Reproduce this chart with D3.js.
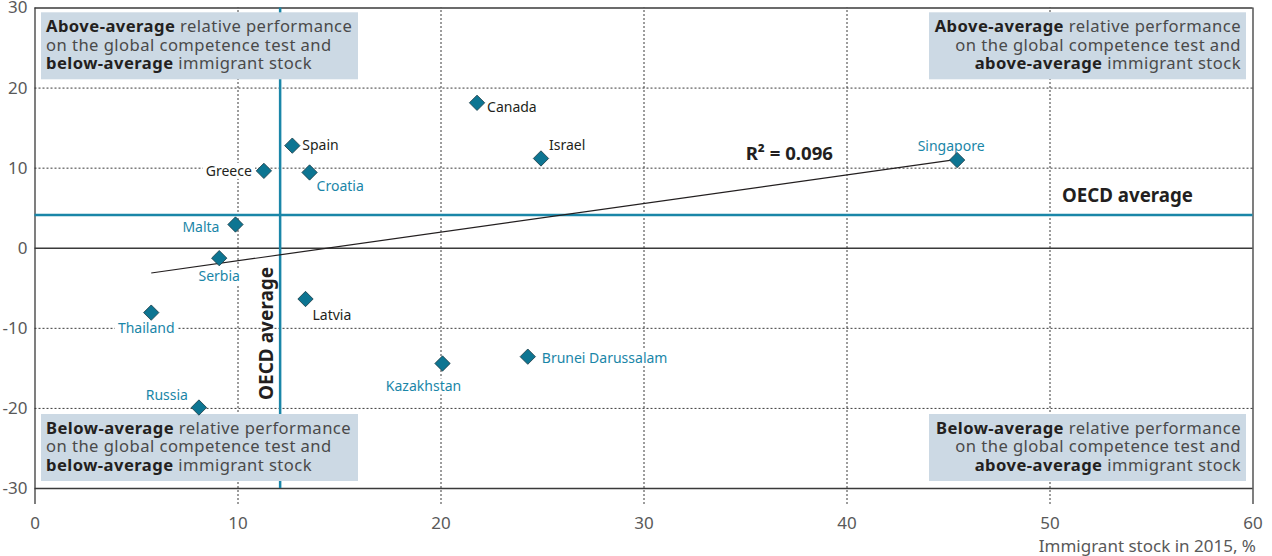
<!DOCTYPE html>
<html>
<head>
<meta charset="utf-8">
<script src="https://cdn.jsdelivr.net/npm/d3@7"></script>
<style>
  html, body { margin: 0; padding: 0; background: #fff; }
  svg { display: block; font-family: "Noto Sans", "Open Sans", sans-serif; }
</style>
</head>
<body>
<svg id="chart" width="1272" height="556"></svg>
<script>
// Countries: immigrant stock in 2015 (%) vs. relative performance on the global competence test
const countries = ["Canada", "Israel", "Brunei Darussalam", "Kazakhstan", "Singapore", "Spain", "Greece",
                   "Croatia", "Malta", "Serbia", "Thailand", "Latvia", "Russia"];
const immigrantStock = [21.8, 24.95, 24.3, 20.1, 45.45, 12.7, 11.3, 13.55, 9.9, 9.1, 5.75, 13.35, 8.1];
const relativePerformance = [18.1, 11.15, -13.6, -14.45, 10.95, 12.75, 9.6, 9.4, 2.9, -1.3, -8.1, -6.4, -19.95];
// OECD countries are labelled in dark text, partners in teal
const isOECD = [true, true, false, false, false, true, true, false, false, false, false, true, false];

const oecdAvgX = 12.1;
const oecdAvgY = 4.1;
const r2Label = "R\u00B2 = 0.096";

const xTicks = [0, 10, 20, 30, 40, 50, 60];
const yTicks = [-30, -20, -10, 0, 10, 20, 30];

const quadrantNotes = [
  { pos: "tl", lines: [["Above-average", " relative performance"], ["", "on the global competence test and"], ["below-average", " immigrant stock"]] },
  { pos: "tr", lines: [["Above-average", " relative performance"], ["", "on the global competence test and"], ["above-average", " immigrant stock"]] },
  { pos: "bl", lines: [["Below-average", " relative performance"], ["", "on the global competence test and"], ["below-average", " immigrant stock"]] },
  { pos: "br", lines: [["Below-average", " relative performance"], ["", "on the global competence test and"], ["above-average", " immigrant stock"]] }
];

// label placement: [dx, dy, anchor]
const labelPlacement = {
  "Canada": [10, 9, "start"],
  "Israel": [8, -8, "start"],
  "Brunei Darussalam": [14, 6, "start"],
  "Kazakhstan": [-19, 28, "middle"],
  "Singapore": [-6, -9, "middle"],
  "Spain": [10, 4, "start"],
  "Greece": [-12, 5, "end"],
  "Croatia": [7, 19, "start"],
  "Malta": [-16, 7, "end"],
  "Serbia": [0, 23, "middle"],
  "Thailand": [-5, 20, "middle"],
  "Latvia": [7, 21, "start"],
  "Russia": [-11, -8, "end"]
};

const TEAL = "#1a86a8";
const MARK = "#0d7592";
const DARK = "#231f20";
const GRIDC = "#3a3a3a";

const svg = d3.select("#chart");
const L = 34.5, R = 1252.5, T = 7.5, B = 488, AXB = 504;

const x = d3.scaleLinear().domain([0, 60]).range([L, R]);
const y = d3.scaleLinear().domain([-30, 30]).range([B, T]);

// vertical grid + x axis labels
const xAxis = svg.append("g")
  .attr("transform", `translate(0,${AXB})`)
  .call(d3.axisBottom(x).tickValues(xTicks).tickSize(-(AXB - T)).tickPadding(13).tickFormat(d3.format("d")));
xAxis.select(".domain").remove();
xAxis.selectAll(".tick line")
  .attr("stroke", GRIDC)
  .attr("stroke-width", d => (d === 0 || d === 60) ? 1.3 : 1)
  .attr("stroke-dasharray", d => (d === 0 || d === 60) ? null : "2,2");
xAxis.selectAll(".tick text").attr("fill", "#595959").attr("font-size", 17).attr("font-family", "Noto Sans");

// horizontal grid + y axis labels
const yAxis = svg.append("g")
  .attr("transform", `translate(${L},0)`)
  .call(d3.axisLeft(y).tickValues(yTicks).tickSize(-(R - L)).tickPadding(7).tickFormat(d => d < 0 ? "-" + Math.abs(d) : d));
yAxis.select(".domain").remove();
yAxis.selectAll(".tick line")
  .attr("stroke", GRIDC)
  .attr("stroke-width", d => (d === 0 || d === 30 || d === -30) ? 1.3 : 1)
  .attr("stroke-dasharray", d => (d === 0 || d === 30 || d === -30) ? null : "2,2");
yAxis.selectAll(".tick text").attr("fill", "#595959").attr("font-size", 17).attr("font-family", "Noto Sans");

// x axis title
svg.append("text")
  .attr("x", 1256).attr("y", 552)
  .attr("text-anchor", "end")
  .attr("font-size", 17).attr("fill", "#595959")
  .text("Immigrant stock in 2015, %");

// OECD average lines
svg.append("line")
  .attr("x1", x(oecdAvgX)).attr("x2", x(oecdAvgX)).attr("y1", T).attr("y2", B)
  .attr("stroke", TEAL).attr("stroke-width", 2.5);
svg.append("line")
  .attr("x1", L).attr("x2", R).attr("y1", y(oecdAvgY)).attr("y2", y(oecdAvgY))
  .attr("stroke", TEAL).attr("stroke-width", 2.5);

// quadrant notes
const boxW = 317, boxH = 67;
quadrantNotes.forEach(q => {
  const left = q.pos[1] === "l";
  const top = q.pos[0] === "t";
  const bx = left ? 41 : 929;
  const by = top ? 12.3 : 414;
  svg.append("rect").attr("x", bx).attr("y", by).attr("width", boxW).attr("height", boxH).attr("fill", "#ccd9e4");
  q.lines.forEach((ln, i) => {
    const tx = left ? bx + 5 : bx + boxW - 5;
    const ty = by + 19.7 + i * 18.5;
    const t = svg.append("text")
      .attr("x", tx).attr("y", ty)
      .attr("font-size", 16.6)
      .attr("letter-spacing", 0.45)
      .attr("text-anchor", left ? "start" : "end");
    if (ln[0]) t.append("tspan").attr("font-weight", 700).attr("fill", DARK).text(ln[0]);
    t.append("tspan").attr("fill", "#4a4a4a").attr("xml:space", "preserve").style("white-space", "pre").text(ln[1]);
  });
});

// least squares trend line
const n = countries.length;
const mx = d3.mean(immigrantStock), my = d3.mean(relativePerformance);
let sxy = 0, sxx = 0;
for (let i = 0; i < n; i++) {
  sxy += (immigrantStock[i] - mx) * (relativePerformance[i] - my);
  sxx += (immigrantStock[i] - mx) ** 2;
}
const slope = sxy / sxx, intercept = my - slope * mx;
const [x0, x1] = d3.extent(immigrantStock);
svg.append("line")
  .attr("x1", x(x0)).attr("y1", y(intercept + slope * x0))
  .attr("x2", x(x1)).attr("y2", y(intercept + slope * x1))
  .attr("stroke", DARK).attr("stroke-width", 1.2);

// labels with white backing
const data = countries.map((c, i) => ({ c, xv: immigrantStock[i], yv: relativePerformance[i], oecd: isOECD[i] }));
const lblG = svg.append("g");
data.forEach(d => {
  const [dx, dy, anchor] = labelPlacement[d.c];
  const g = lblG.append("g");
  const txt = g.append("text")
    .attr("x", x(d.xv) + dx).attr("y", y(d.yv) + dy)
    .attr("text-anchor", anchor)
    .attr("font-size", 14)
    .attr("fill", d.oecd ? DARK : TEAL)
    .text(d.c);
  const bb = txt.node().getBBox();
  g.insert("rect", "text")
    .attr("x", bb.x - 3).attr("y", bb.y + 2).attr("width", bb.width + 6).attr("height", bb.height - 3)
    .attr("fill", "#fff");
});

// diamonds
svg.append("g").selectAll("path")
  .data(data).join("path")
  .attr("transform", d => `translate(${x(d.xv)},${y(d.yv)})`)
  .attr("d", d3.symbol(d3.symbolDiamond2, 150))
  .attr("fill", MARK).attr("stroke", "#1b3a44").attr("stroke-width", 0.8);

// annotations
svg.append("text")
  .attr("x", 1193).attr("y", 201.5)
  .attr("text-anchor", "end")
  .attr("font-size", 18.7).attr("font-weight", 700).attr("fill", DARK)
  .text("OECD average");
svg.append("text")
  .attr("transform", `translate(${x(oecdAvgX) - 7},400) rotate(-90)`)
  .attr("font-size", 19).attr("font-weight", 700).attr("fill", DARK)
  .text("OECD average");
svg.append("text")
  .attr("x", 833).attr("y", 160)
  .attr("text-anchor", "end")
  .attr("font-size", 18.6).attr("font-weight", 700).attr("fill", DARK)
  .text(r2Label);
</script>
</body>
</html>
